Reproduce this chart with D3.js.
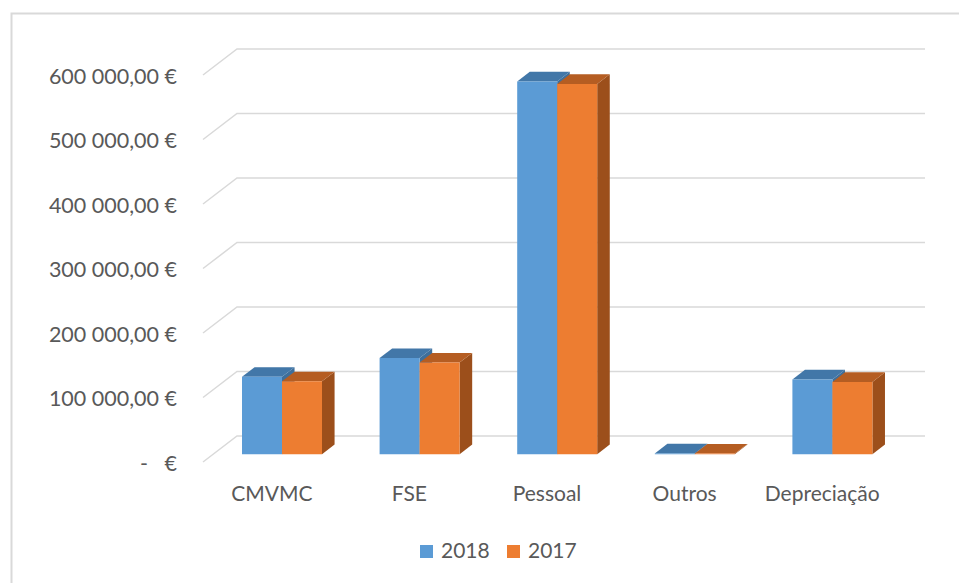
<!DOCTYPE html>
<html>
<head>
<meta charset="utf-8">
<script src="https://cdn.jsdelivr.net/npm/d3@7"></script>
<style>
    body { margin: 0; background: #fff; }
    svg { display: block; font-family: Lato, "Open Sans", sans-serif; }
    text { fill: #595959; white-space: pre; }
</style>
</head>
<body>
<div class="chart"></div>
<script>
/* 3D clustered columns: custos por natureza */

var categories = ["CMVMC", "FSE", "Pessoal", "Outros", "Depreciação"];
var series = ["2018", "2017"];
var values2018 = [120000, 149000, 578000, 1200, 116000];
var values2017 = [113000, 142000, 574000, 1000, 112000];
var yTicks = [0, 100000, 200000, 300000, 400000, 500000, 600000];

var colors = {
    "2018": { front: "#5b9bd5", top: "#4277a8", side: "#3e6f9b" },
    "2017": { front: "#ed7d31", top: "#b55d22", side: "#9c4f1b" }
};

var w = 959;
var h = 583;

// depth of the 3D box (full wall depth)
var depthX = 34;
var depthY = -26;
var barFront = 0.3;
var barBack = 0.67;

var svg = d3.select(".chart")
    .append("svg")
    .attr("width", w)
    .attr("height", h);

// chart border (cropped at right and bottom)
svg.append("rect")
    .attr("x", 11.5)
    .attr("y", 13.5)
    .attr("width", 1000)
    .attr("height", 700)
    .attr("fill", "none")
    .attr("stroke", "#d9d9d9")
    .attr("stroke-width", 2);

var x = d3.scaleBand()
    .domain(categories)
    .range([203, 891]);

var xSub = d3.scaleBand()
    .domain(series)
    .range([-40, 40]);

var y = d3.scaleLinear()
    .domain([0, 600000])
    .range([462, 75]);

var locale = d3.formatLocale({
    decimal: ",",
    thousands: "\u00a0",
    grouping: [3],
    currency: ["", " €"]
});
var fmt = locale.format(",.2f");

function tickLabel(v) {
    if (v === 0) return "-   €";
    return fmt(v) + " €";
}

function px(xv, t) { return xv + depthX * t; }
function py(yv, t) { return yv + depthY * t; }

// gridlines: diagonal on the side wall, then flat on the back wall
var grid = svg.append("g").attr("class", "grid");
grid.selectAll("path")
    .data(yTicks)
    .enter()
    .append("path")
    .attr("d", function (d) {
        var p = d3.path();
        p.moveTo(203, y(d));
        p.lineTo(px(203, 1), py(y(d), 1));
        p.lineTo(px(891, 1), py(y(d), 1));
        return p.toString();
    })
    .attr("fill", "none")
    .attr("stroke", "#d9d9d9")
    .attr("stroke-width", 1.5);

// y axis labels
svg.append("g")
    .selectAll("text")
    .data(yTicks)
    .enter()
    .append("text")
    .attr("x", 177)
    .attr("y", function (d) { return y(d) + 1; })
    .attr("dy", "0.35em")
    .attr("text-anchor", "end")
    .style("font-size", "21.5px")
    .text(tickLabel);

// bars
var bars = [];
categories.forEach(function (c, i) {
    bars.push({ cat: c, s: "2018", v: values2018[i] });
    bars.push({ cat: c, s: "2017", v: values2017[i] });
});

var barG = svg.append("g")
    .selectAll("g")
    .data(bars)
    .enter()
    .append("g");

function face(pts) {
    return "M" + pts.map(function (p) { return p[0] + "," + p[1]; }).join("L") + "Z";
}

function barGeom(d) {
    var cx = x(d.cat) + x.bandwidth() / 2;
    var x0 = cx + xSub(d.s);
    var x1 = x0 + xSub.bandwidth();
    var yb = y(0);
    var yt = y(d.v);
    return { x0: x0, x1: x1, yb: yb, yt: yt };
}

// side face
barG.append("path")
    .attr("d", function (d) {
        var g = barGeom(d);
        return face([
            [px(g.x1, barFront), py(g.yt, barFront)],
            [px(g.x1, barBack), py(g.yt, barBack)],
            [px(g.x1, barBack), py(g.yb, barBack)],
            [px(g.x1, barFront), py(g.yb, barFront)]
        ]);
    })
    .attr("fill", function (d) { return colors[d.s].side; });

// top face
barG.append("path")
    .attr("d", function (d) {
        var g = barGeom(d);
        return face([
            [px(g.x0, barFront), py(g.yt, barFront)],
            [px(g.x0, barBack), py(g.yt, barBack)],
            [px(g.x1, barBack), py(g.yt, barBack)],
            [px(g.x1, barFront), py(g.yt, barFront)]
        ]);
    })
    .attr("fill", function (d) { return colors[d.s].top; });

// front face
barG.append("path")
    .attr("d", function (d) {
        var g = barGeom(d);
        return face([
            [px(g.x0, barFront), py(g.yt, barFront)],
            [px(g.x1, barFront), py(g.yt, barFront)],
            [px(g.x1, barFront), py(g.yb, barFront)],
            [px(g.x0, barFront), py(g.yb, barFront)]
        ]);
    })
    .attr("fill", function (d) { return colors[d.s].front; });

// category labels
svg.append("g")
    .selectAll("text")
    .data(categories)
    .enter()
    .append("text")
    .attr("x", function (d) { return x(d) + x.bandwidth() / 2; })
    .attr("y", 501)
    .attr("text-anchor", "middle")
    .style("font-size", "21px")
    .text(function (d) { return d; });

// legend
var legend = svg.append("g")
    .selectAll("g")
    .data(series)
    .enter()
    .append("g")
    .attr("transform", function (d, i) { return "translate(" + (420 + i * 87) + ",545)"; });

legend.append("rect")
    .attr("width", 13)
    .attr("height", 13)
    .attr("fill", function (d) { return colors[d].front; });

legend.append("text")
    .attr("x", 21)
    .attr("y", 13)
    .style("font-size", "21px")
    .text(function (d) { return d; });
</script>
</body>
</html>
